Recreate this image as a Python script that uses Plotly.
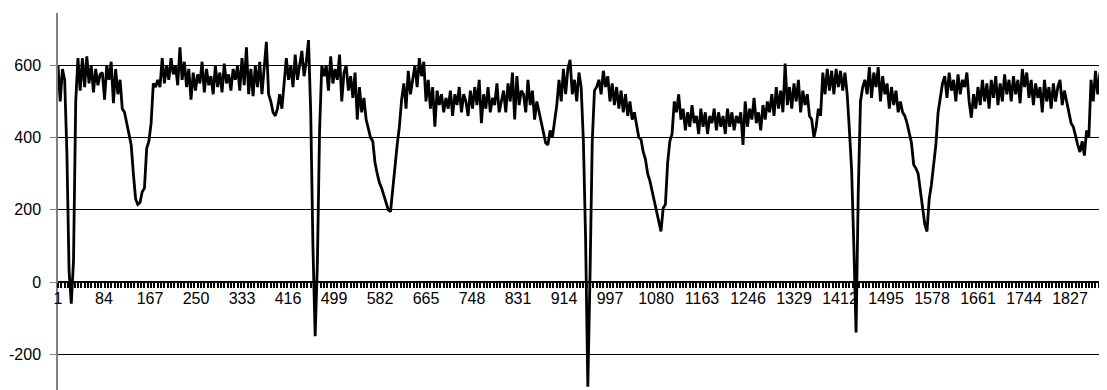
import plotly.graph_objects as go

# Category index of the first sample and spacing between samples (categories 1..1893)
first_category = 1
category_step = 4

# Series values, one every 4 categories
values = [
    600, 500, 590, 560, 360, 30, -60, 60, 500, 620,
    530, 620, 540, 625, 550, 600, 525, 590, 545, 575,
    580, 505, 600, 560, 610, 495, 590, 520, 560, 480,
    470, 440, 400, 380, 300, 230, 215, 220, 250, 260,
    370, 390, 440, 550, 540, 560, 540, 620, 550, 600,
    560, 620, 575, 600, 545, 650, 560, 610, 540, 590,
    505, 580, 530, 575, 550, 610, 525, 590, 545, 570,
    520, 600, 540, 580, 525, 605, 550, 575, 530, 590,
    560, 600, 530, 620, 545, 650, 520, 590, 515, 600,
    540, 610, 520, 600, 665, 520, 500, 470, 460, 480,
    520, 480, 540, 620, 560, 600, 540, 630, 560, 600,
    640, 570, 610, 670, 470, 100, -150, 50, 420, 600,
    570, 600, 530, 625, 550, 590, 560, 630, 500, 580,
    600, 530, 570, 510, 580, 450, 540, 470, 510, 450,
    420, 400, 390, 330, 300, 275, 260, 240, 225, 200,
    195, 260, 330, 380, 430, 505, 550, 480, 585, 520,
    560, 600, 540, 620, 570, 610, 500, 560, 480, 540,
    430, 530, 490, 520, 470, 510, 480, 530, 460, 520,
    490, 540, 470, 520, 500, 460, 530, 480, 540, 490,
    560, 440, 520, 480, 540, 470, 510, 490, 550, 470,
    500, 530, 470, 550, 500, 580, 450, 570, 490, 530,
    520, 470, 560, 490, 530, 450, 500, 470, 440, 410,
    385, 380, 420, 400, 440, 490, 560, 500, 590, 520,
    590, 615, 520, 560, 500, 580, 540, 390, 120, -290,
    20, 390, 530, 540, 560, 520, 585, 540, 570, 500,
    550, 490, 540, 480, 530, 470, 520, 460, 500, 450,
    470, 430, 400, 395, 360, 340, 300, 280, 250, 220,
    190, 160, 140, 205, 215, 330, 390, 410, 500, 470,
    520, 450, 480, 420, 470, 430, 490, 440, 460, 410,
    480, 430, 470, 410, 460, 440, 480, 420, 470, 430,
    460, 410, 480, 430, 470, 420, 460, 440, 470, 380,
    500, 430, 480, 450, 510, 440, 470, 420, 490, 450,
    500, 470, 520, 460, 540, 480, 530, 470, 605, 490,
    540, 480, 550, 500, 560, 470, 530, 490, 520, 460,
    450, 400, 430, 480, 460, 580, 520, 590, 530, 585,
    520, 590, 540, 585, 530, 580, 520, 420, 310, 100,
    -140, 250, 500, 540, 560, 520, 595, 510, 580, 540,
    595, 500, 570, 520, 550, 480, 540, 490, 530, 470,
    500, 470, 460, 440, 410, 385, 325, 315, 300, 250,
    200, 160, 140, 230, 270, 320, 380, 470, 515, 550,
    570, 510, 580, 530, 560, 500, 575, 520, 560, 540,
    580, 500, 455, 520, 480, 540, 490, 560, 500, 550,
    480, 560, 510, 570, 490, 550, 500, 575, 520, 560,
    500, 570, 520, 560, 495, 590, 540, 580, 510, 560,
    490, 550, 510, 540, 470, 560, 500, 540, 480, 550,
    500, 540, 560, 490, 530, 500, 480, 440, 430, 400,
    380, 360, 390, 350, 420, 400, 560, 500, 585, 520,
    580, 500, 570, 540,
]

x_tick_values = [1, 84, 167, 250, 333, 416, 499, 582, 665, 748, 831, 914,
                 997, 1080, 1163, 1246, 1329, 1412, 1495, 1578, 1661, 1744, 1827]
x_tick_labels = [str(v) for v in x_tick_values]

y_tick_values = [-200, 0, 200, 400, 600]
y_tick_labels = ["-200", "0", "200", "400", "600"]

categories = [first_category + category_step * i for i in range(len(values))]

x_range = [1, 1893.8]
y_min, y_max = -299, 745
zero_pos = (0 - y_min) / (y_max - y_min)

fig = go.Figure()
# invisible helper trace so the tick-mark axis is drawn
fig.add_trace(go.Scatter(
    x=x_range, y=[0, 0], mode="lines", xaxis="x2",
    line=dict(color="rgba(0,0,0,0)", width=0),
    hoverinfo="skip", showlegend=False,
))
fig.add_trace(go.Scatter(
    x=categories, y=values, mode="lines",
    line=dict(color="black", width=2.8),
    hoverinfo="skip", showlegend=False,
))

font = dict(family="Liberation Sans, Arial, sans-serif", size=16, color="black")

fig.update_layout(
    width=1099, height=382,
    margin=dict(l=50, r=0, t=5, b=0, autoexpand=False),
    paper_bgcolor="white", plot_bgcolor="white",
    font=font,
    xaxis=dict(
        range=x_range,
        anchor="free", position=zero_pos,
        showgrid=False, zeroline=False,
        showline=True, linecolor="black", linewidth=1.5,
        tickmode="array", tickvals=x_tick_values, ticktext=x_tick_labels,
        ticks="", ticklabelstandoff=2,
        tickfont=font,
    ),
    xaxis2=dict(
        range=x_range, overlaying="x",
        anchor="free", position=zero_pos,
        showgrid=False, zeroline=False, showline=False,
        tickmode="linear", tick0=1, dtick=6,
        ticks="outside", ticklen=5, tickwidth=2, tickcolor="black",
        showticklabels=False,
    ),
    yaxis=dict(
        range=[y_min, y_max],
        tickmode="array", tickvals=y_tick_values, ticktext=y_tick_labels,
        showgrid=True, gridcolor="black", gridwidth=1,
        zeroline=False,
        showline=True, linecolor="#808080", linewidth=1.5,
        ticks="outside", ticklen=6, tickcolor="#808080",
        ticklabelstandoff=6,
        tickfont=font,
    ),
)

fig.write_html("out.html")
